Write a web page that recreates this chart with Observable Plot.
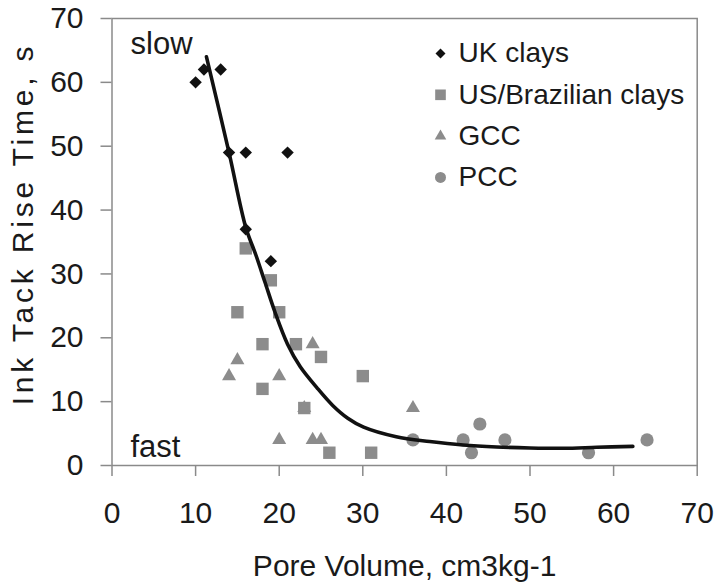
<!DOCTYPE html>
<html>
<head>
<meta charset="utf-8">
<script src="https://cdn.jsdelivr.net/npm/d3@7"></script>
<script src="https://cdn.jsdelivr.net/npm/@observablehq/plot@0.6"></script>
<style>
  html, body { margin: 0; padding: 0; background: #fff; }
  #chart svg { display: block; }
</style>
</head>
<body>
<div id="chart"></div>
<script>
// Pore volume (cm3/kg) vs ink tack rise time (s), by pigment family
const seriesNames = ["UK clays", "US/Brazilian clays", "GCC", "PCC"];

const ukClays = [[10, 60], [11, 62], [13, 62], [14, 49], [16, 49], [21, 49], [16, 37], [19, 32]];
const usBrazilianClays = [[16, 34], [19, 29], [15, 24], [20, 24], [18, 19], [22, 19], [25, 17],
                          [18, 12], [23, 9], [26, 2], [30, 14], [31, 2]];
const gcc = [[15, 16.5], [14, 14], [20, 14], [24, 19], [23, 9], [20, 4], [24, 4], [25, 4], [36, 9]];
const pcc = [[36, 4], [42, 4], [44, 6.5], [43, 2], [47, 4], [57, 2], [64, 4]];

// Fitted trend through all pigments
const trendLine = [[11.3, 64], [14, 49], [16, 37.3], [17.2, 33], [18.3, 28.7], [19.5, 24], [21, 19],
                   [22.5, 15.5], [24.5, 12.2], [26.4, 9.4], [28.2, 7.4], [30.1, 6.0], [34, 4.5],
                   [38, 3.75], [42, 3.2], [46, 2.9], [50, 2.75], [54, 2.7], [58, 2.85], [62.3, 3.0]];

const xTicks = [0, 10, 20, 30, 40, 50, 60, 70];
const yTicks = [0, 10, 20, 30, 40, 50, 60, 70];

const ink = "#1a1a1a";
const grey = "#8c8c8c";
const axisGrey = "#8a8a8a";

const styles = [
  {data: ukClays, symbol: "diamond2", fill: "#111111", r: 5.6, legendR: 4.5},
  {data: usBrazilianClays, symbol: "square", fill: grey, r: 7.0, legendR: 6.0},
  {data: gcc, symbol: "triangle", fill: grey, r: 5.2, legendR: 4.3},
  {data: pcc, symbol: "circle", fill: grey, r: 6.6, legendR: 5.5}
];

const W = 719, H = 585;
const mL = 111.5, mR = 22.3, mT = 18, mB = 120;

const pointMarks = styles.map(s =>
  Plot.dot(s.data, {x: d => d[0], y: d => d[1], symbol: s.symbol, fill: s.fill, r: s.r, stroke: "none"})
);

// legend drawn inside the frame, top right
const legendMarks = styles.flatMap((s, i) => [
  Plot.dot([seriesNames[i]], {frameAnchor: "top-left", dx: 328.5, dy: 35 + 41.3 * i,
    symbol: s.symbol, fill: s.fill, r: s.legendR, stroke: "none"}),
  Plot.text([seriesNames[i]], {text: d => d, frameAnchor: "top-left", dx: 346.5, dy: 35 + 41.3 * i,
    textAnchor: "start", lineAnchor: "middle", fontSize: 28, fill: ink})
]);

const chart = Plot.plot({
  width: W,
  height: H,
  marginLeft: mL,
  marginRight: mR,
  marginTop: mT,
  marginBottom: mB,
  style: {fontFamily: "'Liberation Sans', Arial, Helvetica, sans-serif", fontSize: "30px", background: "#fff", color: ink},
  x: {domain: [0, 70]},
  y: {domain: [0, 70]},
  marks: [
    Plot.frame({stroke: axisGrey, strokeWidth: 1.5}),
    Plot.axisX({ticks: xTicks, tickSize: 11, tickPadding: 25, stroke: axisGrey, strokeWidth: 1.5,
      fill: ink, fontSize: 30, label: null}),
    Plot.axisY({ticks: yTicks, tickSize: 11, tickPadding: 17.5, stroke: axisGrey, strokeWidth: 1.5,
      fill: ink, fontSize: 30, label: null}),
    Plot.text(["Pore Volume, cm3kg-1"], {text: d => d, frameAnchor: "bottom", dy: 110,
      textAnchor: "middle", lineAnchor: "bottom", fontSize: 30, fill: ink}),
    Plot.text(["Ink Tack Rise Time, s"], {text: d => d, frameAnchor: "left", rotate: -90,
      dx: -79.5, dy: -18, textAnchor: "middle", lineAnchor: "bottom", fontSize: 30, fill: ink}),
    Plot.text(["slow"], {text: d => d, frameAnchor: "top-left", dx: 18.5, dy: 35,
      textAnchor: "start", lineAnchor: "bottom", fontSize: 31, fill: ink}),
    Plot.text(["fast"], {text: d => d, frameAnchor: "bottom-left", dx: 18.5, dy: -9,
      textAnchor: "start", lineAnchor: "bottom", fontSize: 31, fill: ink}),
    ...pointMarks,
    Plot.line(trendLine, {x: d => d[0], y: d => d[1], curve: "catmull-rom", stroke: "#111111", strokeWidth: 3.6}),
    ...legendMarks
  ]
});

// the vertical title is set with wider tracking
d3.select(chart).selectAll("text")
  .filter(function () { return this.textContent === "Ink Tack Rise Time, s"; })
  .style("letter-spacing", "3.8px");

document.getElementById("chart").appendChild(chart);
</script>
</body>
</html>
